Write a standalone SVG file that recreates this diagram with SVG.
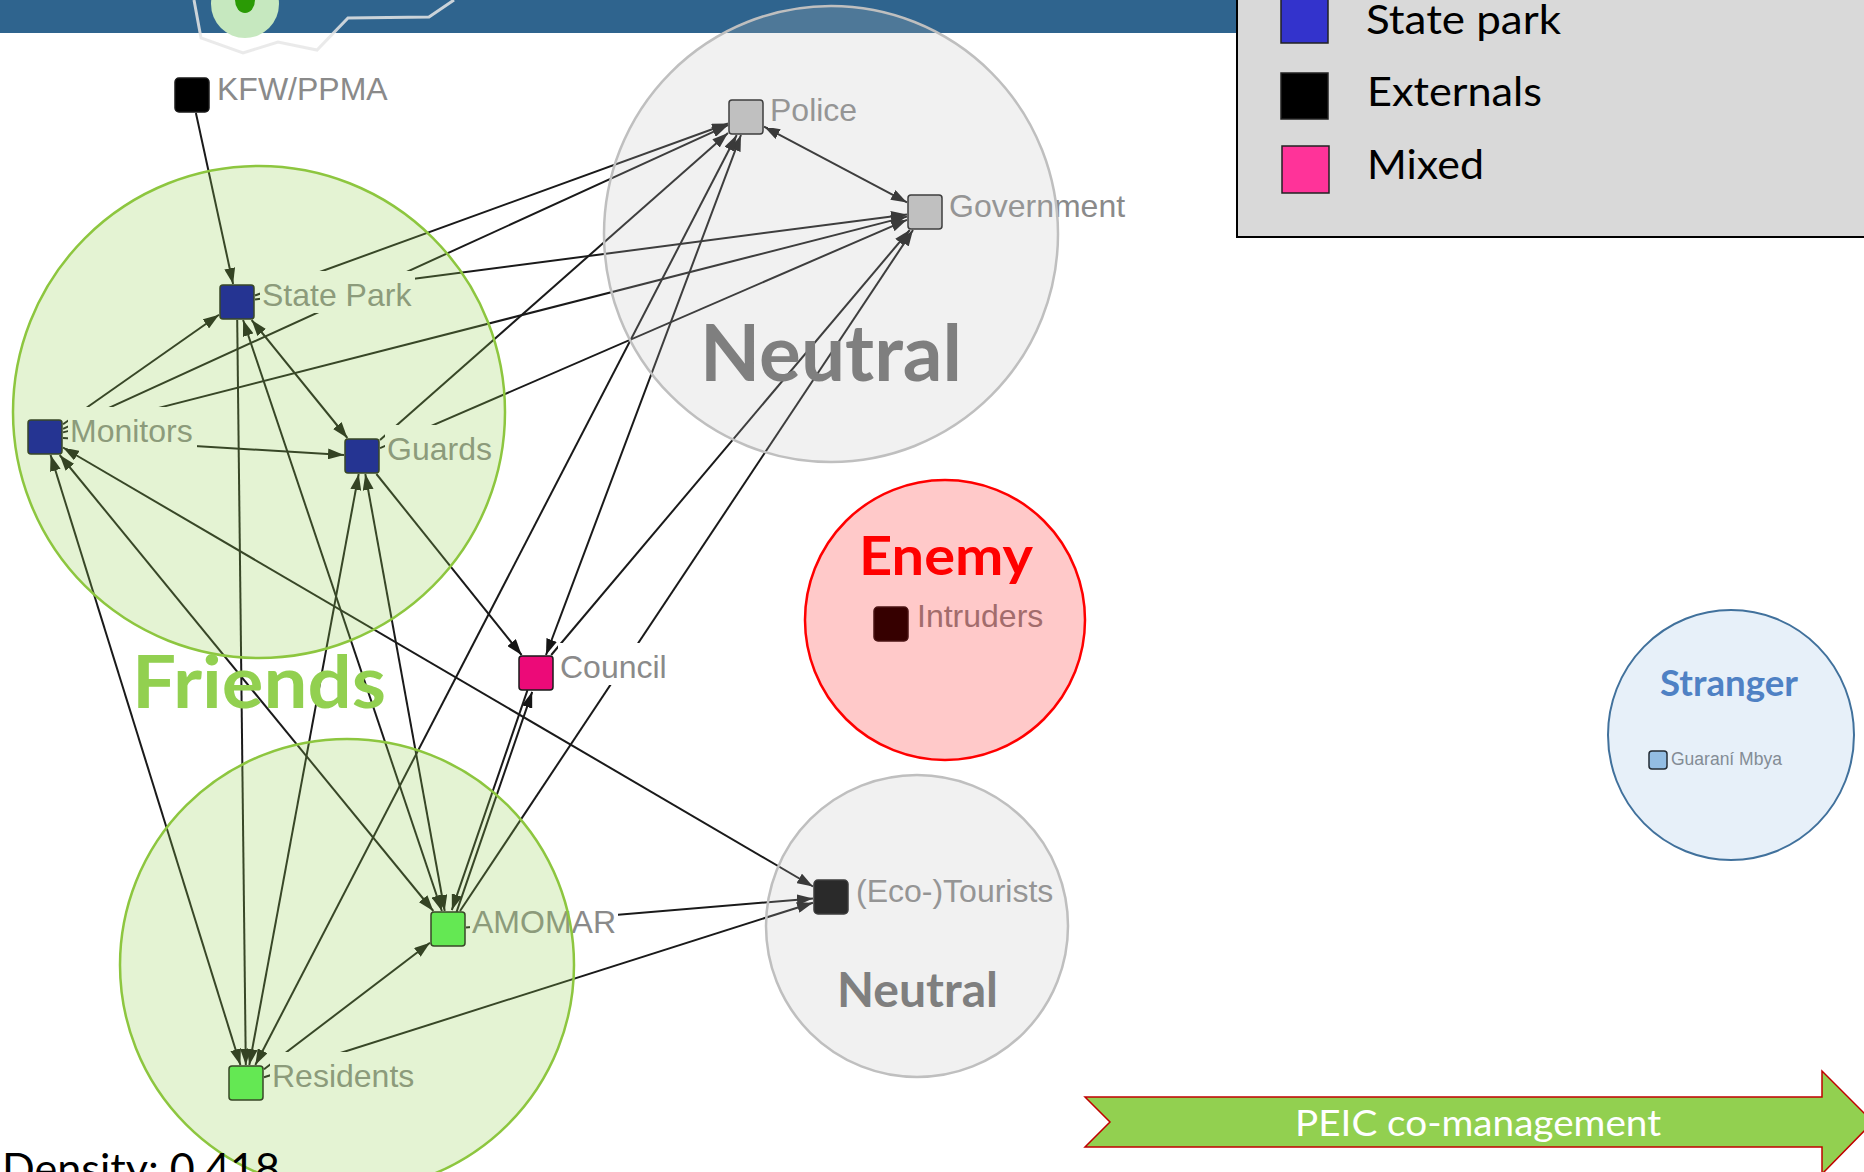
<svg xmlns="http://www.w3.org/2000/svg" width="1864" height="1172" viewBox="0 0 1864 1172">
<style>
.lbl{font-family:"Liberation Sans",Arial,sans-serif;font-size:32px;fill:#8a8a8a}
.lbox{fill:#ffffff}
.sq{stroke:#1a1a1a;stroke-width:1.5}
.e{stroke:#1a1a1a;stroke-width:2;fill:none;marker-end:url(#ah)}
.b{marker-start:url(#ah)}
.zone{stroke-width:2.5}
.big{font-family:Lato,"Open Sans","Liberation Sans",sans-serif;font-weight:bold}
.cal{font-family:Lato,"Open Sans","Liberation Sans",sans-serif}
</style>
<defs>
<marker id="ah" viewBox="0 0 16 11" refX="16" refY="5.5" markerWidth="16" markerHeight="11" markerUnits="userSpaceOnUse" orient="auto-start-reverse">
<path d="M0,0 L16,5.5 L0,11 z" fill="#151515"/>
</marker>
</defs>
<rect width="1864" height="1172" fill="#ffffff"/>
<!-- banner -->
<g id="banner">
<rect x="0" y="0" width="1240" height="33" fill="#2f648e"/>
<ellipse cx="245" cy="4" rx="34" ry="34" fill="#c6e8bf"/>
<ellipse cx="245" cy="0" rx="10" ry="13" fill="#2a9a05"/>
<polyline points="194,0 201,38 243,53 278,42 317,50 348,18 429,17 454,0" fill="none" stroke="#e6e6e6" stroke-width="3" stroke-opacity="0.85"/>
</g>
<!-- connectors -->
<g id="connectors">
<line class="e" x1="195.9" y1="113" x2="233.1" y2="284"/>
<line class="e" x1="255" y1="295.5" x2="728" y2="123.5"/>
<line class="e" x1="63" y1="428.8" x2="728" y2="125.2"/>
<line class="e" x1="380" y1="440.1" x2="728" y2="132.9"/>
<line class="e" x1="255" y1="299.6" x2="907" y2="214.4"/>
<line class="e" x1="63" y1="432.4" x2="907" y2="216.6"/>
<line class="e" x1="380" y1="448.2" x2="907" y2="219.8"/>
<line class="e b" x1="764" y1="126.6" x2="907" y2="202.4"/>
<line class="e" x1="551.2" y1="655" x2="909.8" y2="230"/>
<line class="e" x1="460" y1="911" x2="913" y2="230"/>
<line class="e b" x1="741" y1="135" x2="546" y2="655"/>
<line class="e" x1="456.6" y1="911.8" x2="532.2" y2="691.8"/>
<line class="e" x1="527.5" y1="690.2" x2="451.8" y2="910.2"/>
<line class="e" x1="376.4" y1="474" x2="521.6" y2="655"/>
<line class="e b" x1="63" y1="447.5" x2="813" y2="886.5"/>
<line class="e" x1="466" y1="927.5" x2="813" y2="898.5"/>
<line class="e" x1="264" y1="1077.3" x2="813" y2="902.7"/>
<line class="e" x1="264" y1="1069.3" x2="430" y2="942.7"/>
<line class="e b" x1="50.6" y1="455" x2="240.4" y2="1065"/>
<line class="e" x1="237.2" y1="320" x2="245.8" y2="1065"/>
<line class="e b" x1="358.7" y1="474" x2="249.3" y2="1065"/>
<line class="e b" x1="736.7" y1="135" x2="255.3" y2="1065"/>
<line class="e b" x1="59.7" y1="455" x2="433.3" y2="911"/>
<line class="e b" x1="243.1" y1="320" x2="441.9" y2="911"/>
<line class="e b" x1="365.3" y1="474" x2="444.7" y2="911"/>
<line class="e b" x1="251.6" y1="320" x2="347.4" y2="438"/>
<line class="e" x1="63" y1="424.3" x2="219" y2="314.7"/>
<line class="e" x1="63" y1="438.1" x2="344" y2="454.9"/>
</g>
<!-- nodes -->
<g id="node-kfw"><rect class="sq" x="175" y="78" width="34" height="34" rx="4" fill="#000000"/><rect class="lbox" x="215" y="65" width="175" height="42"/><text class="lbl" x="217" y="100">KFW/PPMA</text></g>
<g id="node-statepark"><rect class="sq" x="220" y="285" width="34" height="34" rx="3" fill="#0000a8"/><rect class="lbox" x="260" y="271" width="155" height="42"/><text class="lbl" x="262" y="306">State Park</text></g>
<g id="node-monitors"><rect class="sq" x="28" y="420" width="34" height="34" rx="3" fill="#0000a8"/><rect class="lbox" x="68" y="407" width="129" height="42"/><text class="lbl" x="70" y="442">Monitors</text></g>
<g id="node-guards"><rect class="sq" x="345" y="439" width="34" height="34" rx="3" fill="#0000a8"/><rect class="lbox" x="385" y="425" width="111" height="42"/><text class="lbl" x="387" y="460">Guards</text></g>
<g id="node-police"><rect class="sq" x="729" y="100" width="34" height="34" rx="3" fill="#c0c0c0"/><rect class="lbox" x="768" y="86" width="92" height="42"/><text class="lbl" x="770" y="121">Police</text></g>
<g id="node-government"><rect class="sq" x="908" y="195" width="34" height="34" rx="3" fill="#c0c0c0"/><rect class="lbox" x="947" y="182" width="182" height="42"/><text class="lbl" x="949" y="217">Government</text></g>
<g id="node-council"><rect class="sq" x="519" y="656" width="34" height="34" rx="3" fill="#ec0a78"/><rect class="lbox" x="558" y="643" width="112" height="42"/><text class="lbl" x="560" y="678">Council</text></g>
<g id="node-intruders"><rect class="sq" x="874" y="607" width="34" height="34" rx="4" fill="#000000"/><rect class="lbox" x="915" y="592" width="132" height="42"/><text class="lbl" x="917" y="627">Intruders</text></g>
<g id="node-amomar"><rect class="sq" x="431" y="912" width="34" height="34" rx="3" fill="#55f055"/><rect class="lbox" x="470" y="898" width="148" height="42"/><text class="lbl" x="472" y="933">AMOMAR</text></g>
<g id="node-residents"><rect class="sq" x="229" y="1066" width="34" height="34" rx="3" fill="#55f055"/><rect class="lbox" x="270" y="1052" width="146" height="42"/><text class="lbl" x="272" y="1087">Residents</text></g>
<g id="node-tourists"><rect class="sq" x="814" y="880" width="34" height="34" rx="4" fill="#000000"/><rect class="lbox" x="854" y="867" width="207" height="42"/><text class="lbl" x="856" y="902">(Eco-)Tourists</text></g>
<g id="node-guarani"><rect class="sq" x="1649" y="751" width="18" height="18" rx="3" fill="#9dc3e6"/><text class="lbl" x="1671" y="765" style="font-size:17.5px">Guaraní Mbya</text></g>
<!-- zones -->
<g id="zone-friends-1"><ellipse class="zone" cx="259" cy="412" rx="246" ry="246" fill="#92d050" fill-opacity="0.25" stroke="#8dc63f"/></g>
<g id="zone-friends-2"><ellipse class="zone" cx="347" cy="965" rx="227" ry="226" fill="#92d050" fill-opacity="0.25" stroke="#8dc63f"/></g>
<g id="zone-neutral-1"><ellipse class="zone" cx="831" cy="234" rx="227" ry="228" fill="#bfbfbf" fill-opacity="0.22" stroke="#bfbfbf"/></g>
<g id="zone-enemy"><ellipse class="zone" cx="945" cy="620" rx="140" ry="140" fill="#ff0000" fill-opacity="0.21" stroke="#ff0000"/></g>
<g id="zone-neutral-2"><ellipse class="zone" cx="917" cy="926" rx="151" ry="151" fill="#bfbfbf" fill-opacity="0.22" stroke="#bfbfbf"/></g>
<g id="zone-stranger"><ellipse cx="1731" cy="735" rx="123" ry="125" fill="#5b9bd5" fill-opacity="0.15" stroke="#41719c" stroke-width="2"/></g>
<!-- zone titles -->
<text class="big" x="132" y="708" font-size="72" fill="#92d050" textLength="254" lengthAdjust="spacingAndGlyphs">Friends</text>
<text class="big" x="700" y="381" font-size="78" fill="#7f7f7f" textLength="262" lengthAdjust="spacingAndGlyphs">Neutral</text>
<text class="big" x="859" y="575" font-size="53" fill="#ff0000" textLength="174" lengthAdjust="spacingAndGlyphs">Enemy</text>
<text class="big" x="837" y="1007" font-size="47" fill="#7f7f7f" textLength="161" lengthAdjust="spacingAndGlyphs">Neutral</text>
<text class="big" x="1660" y="696" font-size="36" fill="#4f81c4" textLength="138" lengthAdjust="spacingAndGlyphs">Stranger</text>
<!-- legend -->
<g id="legend">
<rect x="1237" y="-5" width="700" height="242" fill="#d9d9d9" stroke="#000000" stroke-width="2"/>
<rect x="1281" y="-3" width="47" height="46" fill="#3333cc" stroke="#222222" stroke-width="1.5"/>
<text class="cal" x="1366" y="34" font-size="40" fill="#000000" textLength="195" lengthAdjust="spacingAndGlyphs">State park</text>
<rect x="1281" y="73" width="47" height="46" fill="#000000" stroke="#222222" stroke-width="1.5"/>
<text class="cal" x="1367" y="106" font-size="40" fill="#000000" textLength="175" lengthAdjust="spacingAndGlyphs">Externals</text>
<rect x="1282" y="146" width="47" height="47" fill="#ff3399" stroke="#222222" stroke-width="1.5"/>
<text class="cal" x="1367" y="179" font-size="40" fill="#000000" textLength="117" lengthAdjust="spacingAndGlyphs">Mixed</text>
</g>
<!-- PEIC arrow -->
<g id="peic-arrow">
<polygon points="1085,1097 1822,1097 1822,1071 1873,1122 1822,1174 1822,1147 1085,1147 1110,1122" fill="#92d050" stroke="#c00000" stroke-width="1.5"/>
<text class="cal" x="1478" y="1136" font-size="36" fill="#ffffff" text-anchor="middle" textLength="366" lengthAdjust="spacingAndGlyphs">PEIC co-management</text>
</g>
<text class="cal" x="2" y="1184" font-size="42" fill="#000000" textLength="278" lengthAdjust="spacingAndGlyphs">Density: 0.418</text>
</svg>
